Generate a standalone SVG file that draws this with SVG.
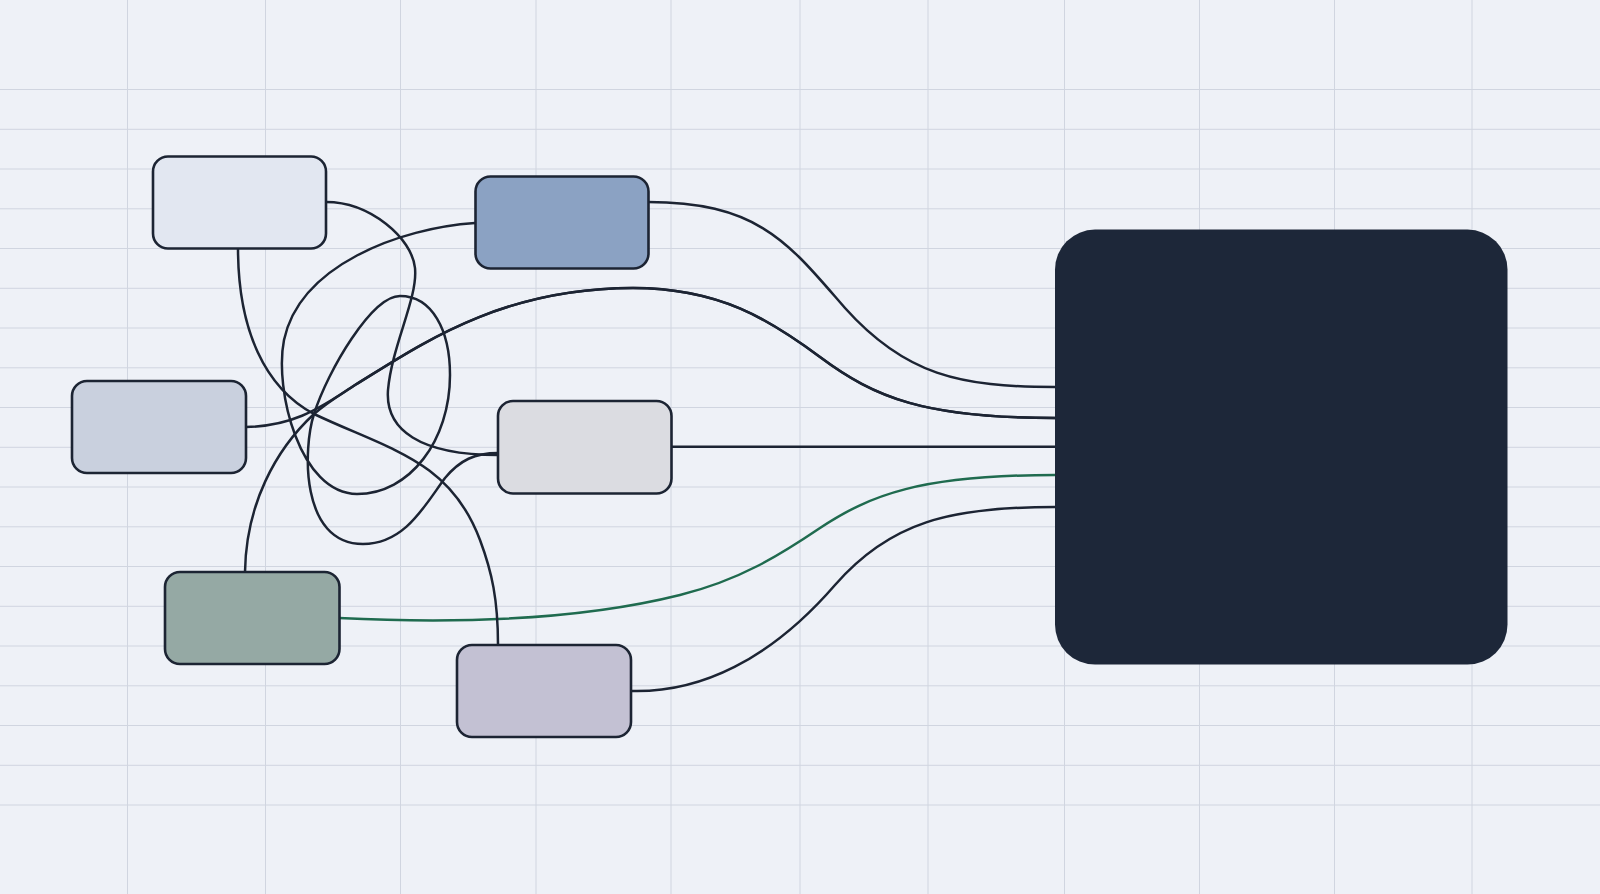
<svg xmlns="http://www.w3.org/2000/svg" width="1600" height="894" viewBox="0 0 1600 894">
  <defs>
    <style>
      .grid line { stroke: #D0D5E0; stroke-width: 1; }
      .node { stroke: #1C2433; stroke-width: 2.6; }
      .conn { fill: none; stroke: #1C2433; stroke-width: 2.5; stroke-linecap: round; }
      .conn.green { stroke: #1F6B4F; }
    </style>
  </defs>
  <rect x="0" y="0" width="1600" height="894" fill="#EEF1F7"/>
  <g class="grid" id="grid">
    <line x1="127.5" y1="0" x2="127.5" y2="894"/>
    <line x1="265.5" y1="0" x2="265.5" y2="894"/>
    <line x1="400.5" y1="0" x2="400.5" y2="894"/>
    <line x1="536" y1="0" x2="536" y2="894"/>
    <line x1="671" y1="0" x2="671" y2="894"/>
    <line x1="800" y1="0" x2="800" y2="894"/>
    <line x1="928" y1="0" x2="928" y2="894"/>
    <line x1="1064.5" y1="0" x2="1064.5" y2="894"/>
    <line x1="1199.5" y1="0" x2="1199.5" y2="894"/>
    <line x1="1334.5" y1="0" x2="1334.5" y2="894"/>
    <line x1="1472" y1="0" x2="1472" y2="894"/>
    <line x1="0" y1="89.5" x2="1600" y2="89.5"/>
    <line x1="0" y1="129.3" x2="1600" y2="129.3"/>
    <line x1="0" y1="169" x2="1600" y2="169"/>
    <line x1="0" y1="208.8" x2="1600" y2="208.8"/>
    <line x1="0" y1="248.5" x2="1600" y2="248.5"/>
    <line x1="0" y1="288.3" x2="1600" y2="288.3"/>
    <line x1="0" y1="328" x2="1600" y2="328"/>
    <line x1="0" y1="367.8" x2="1600" y2="367.8"/>
    <line x1="0" y1="407.5" x2="1600" y2="407.5"/>
    <line x1="0" y1="447.3" x2="1600" y2="447.3"/>
    <line x1="0" y1="487" x2="1600" y2="487"/>
    <line x1="0" y1="526.8" x2="1600" y2="526.8"/>
    <line x1="0" y1="566.5" x2="1600" y2="566.5"/>
    <line x1="0" y1="606.3" x2="1600" y2="606.3"/>
    <line x1="0" y1="646" x2="1600" y2="646"/>
    <line x1="0" y1="685.8" x2="1600" y2="685.8"/>
    <line x1="0" y1="725.5" x2="1600" y2="725.5"/>
    <line x1="0" y1="765.3" x2="1600" y2="765.3"/>
    <line x1="0" y1="805" x2="1600" y2="805"/>
  </g>
  <g id="connectors">
    <path class="conn" d="M648,202 C760,202 790,245 845,308 C905,375 960,387 1055,387"/>
    <path class="conn" d="M246,427 C290,426 315,412 355,385 C420,345 500,288 633,288 C720,288 770,320 820,357 C875,398 925,418 1055,418"/>
    <path class="conn" d="M245,572 C246,505 275,450 314,414 C328,402 340,395 355,385 C420,345 500,288 633,288 C720,288 770,320 820,357 C875,398 925,418 1055,418"/>
    <path class="conn" d="M671.7,446.7 H1055"/>
    <path class="conn green" d="M339,618 C420,622 560,625 680,595 C740,580 780,555 820,528 C870,495 920,475 1055,475"/>
    <path class="conn" d="M631,691 C700,693 770,660 835,585 C890,522 950,507 1055,507"/>
    <path class="conn" d="M238,248 C238,330 265,388 314,414 C390,450 450,460 480,540 C492,572 498,600 498,645"/>
    <path class="conn" d="M326,202 C370,202 412,238 415,268 C418,298 392,345 388,390 C385,430 420,455 498,455"/>
    <path class="conn" d="M475,223 C400,228 300,265 284,340 C274,390 300,494 357,494 C410,494 450,440 450,375 C450,330 432,296 400,296 C372,296 328,370 314,414 C303,448 300,544 363,544 C405,544 425,505 445,478 C460,460 475,453 498,453"/>
  </g>
  <g id="node-1"><rect class="node" x="153" y="156.5" width="173" height="92" rx="15" fill="#E2E7F1"/></g>
  <g id="node-2"><rect class="node" x="475.5" y="176.5" width="173" height="92" rx="15" fill="#8BA2C3"/></g>
  <g id="node-3"><rect class="node" x="72" y="381" width="174" height="92" rx="15" fill="#C9D0DE"/></g>
  <g id="node-4"><rect class="node" x="498" y="401" width="173.5" height="92.5" rx="15" fill="#DBDCE1"/></g>
  <g id="node-5"><rect class="node" x="165" y="572" width="174.5" height="92" rx="15" fill="#95A9A4"/></g>
  <g id="node-6"><rect class="node" x="457" y="645" width="174" height="92" rx="15" fill="#C3C1D3"/></g>
  <g id="node-7"><rect x="1055" y="229.6" width="452.5" height="435" rx="40" fill="#1D2739"/></g>
</svg>
